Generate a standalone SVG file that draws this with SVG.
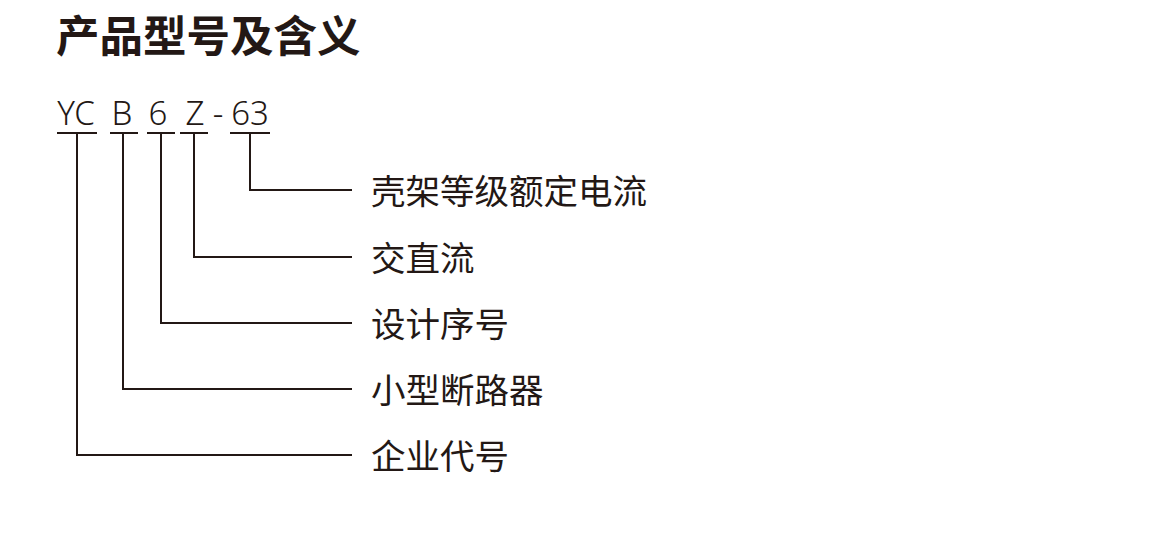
<svg xmlns="http://www.w3.org/2000/svg" width="1151" height="536" viewBox="0 0 1151 536">
<style>
.title{font-family:"Noto Sans CJK SC","Noto Sans",sans-serif;font-weight:700;font-size:43.5px;fill:#231815}
.code{font-family:"Noto Sans","Noto Sans CJK SC",sans-serif;font-weight:300;font-size:33px;fill:#231815;text-anchor:middle}
.label{font-family:"Noto Sans CJK SC",sans-serif;font-weight:400;font-size:34.5px;fill:#231815}
.ln{stroke:#231815;stroke-width:2;fill:none}
</style>
<rect width="1151" height="536" fill="#ffffff"/>
<text class="title" x="56" y="52">产品型号及含义</text>
<g id="code">
<text class="code" x="76" y="125">YC</text>
<text class="code" x="122" y="125">B</text>
<text class="code" x="158" y="125">6</text>
<text class="code" x="195" y="125">Z</text>
<text class="code" x="218" y="125">-</text>
<text class="code" x="250" y="125">63</text>
</g>
<g id="connectors">
<path class="ln" d="M57 133H97M110 133H138M147 133H175M180 133H208M230 133H270"/>
<path class="ln" d="M250 133V190H352"/>
<path class="ln" d="M194 133V257H352"/>
<path class="ln" d="M161 133V323H352"/>
<path class="ln" d="M123 133V389H352"/>
<path class="ln" d="M77 133V455H352"/>
</g>
<g id="n1"><text class="label" x="371" y="204">壳架等级额定电流</text></g>
<g id="n2"><text class="label" x="371" y="271">交直流</text></g>
<g id="n3"><text class="label" x="371" y="337">设计序号</text></g>
<g id="n4"><text class="label" x="371" y="403">小型断路器</text></g>
<g id="n5"><text class="label" x="371" y="469">企业代号</text></g>
</svg>
